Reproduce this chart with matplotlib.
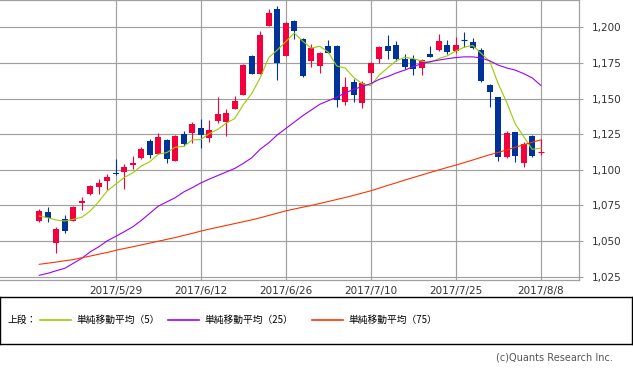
import pandas as pd
import matplotlib
matplotlib.use("Agg")
import matplotlib.pyplot as plt

plt.rcParams['font.family'] = ['DejaVu Sans', 'Noto Sans CJK JP']

# trading days 2017/5/16 - 2017/8/8 (7/17 was a holiday)
dates = pd.bdate_range("2017-05-16", "2017-08-08")
dates = dates[dates != pd.Timestamp("2017-07-17")]

label_dates = ["2017-05-29", "2017-06-12", "2017-06-26", "2017-07-10", "2017-07-25", "2017-08-08"]

opens = [1064.1, 1070.6, 1048.8, 1065.3, 1064.3, 1076.7, 1083.2, 1088.1, 1092.4, 1097.8,
         1098.5, 1103.6, 1108.5, 1120.2, 1111.3, 1120.9, 1106.4, 1125.1, 1125.6, 1129.5,
         1122.6, 1134.5, 1133.5, 1142.9, 1152.7, 1179.9, 1167.4, 1201.1, 1212.8, 1180.1,
         1204.4, 1191.8, 1176.6, 1173.1, 1187.1, 1187.1, 1147.8, 1161.6, 1146.7, 1168.1,
         1178.0, 1186.9, 1187.6, 1178.0, 1177.8, 1171.6, 1181.3, 1184.1, 1187.6, 1183.4,
         1190.9, 1189.9, 1184.1, 1159.5, 1150.8, 1108.8, 1126.3, 1104.6, 1123.7, 1112.6]
highs = [1072.5, 1073.9, 1059.9, 1068.1, 1074.6, 1080.9, 1089.5, 1093.3, 1097.1, 1107.6,
         1104.1, 1109.5, 1116.0, 1121.8, 1125.8, 1121.8, 1124.5, 1127.2, 1133.5, 1135.9,
         1134.9, 1151.1, 1142.7, 1151.6, 1174.0, 1180.8, 1197.4, 1212.8, 1215.2, 1203.5,
         1205.3, 1192.7, 1188.3, 1182.5, 1191.1, 1187.5, 1165.1, 1163.7, 1162.3, 1175.5,
         1186.9, 1194.8, 1190.6, 1181.3, 1180.6, 1177.5, 1186.9, 1195.3, 1191.1, 1193.0,
         1196.7, 1192.7, 1185.3, 1160.2, 1151.0, 1127.0, 1126.5, 1119.7, 1124.4, 1122.0]
lows = [1063.4, 1063.6, 1041.8, 1055.9, 1063.9, 1071.8, 1082.1, 1082.8, 1085.8, 1096.3,
        1086.7, 1100.6, 1107.4, 1108.1, 1110.9, 1104.6, 1106.0, 1116.9, 1119.0, 1115.5,
        1119.7, 1133.0, 1123.9, 1142.5, 1152.2, 1167.0, 1167.0, 1201.0, 1163.0, 1180.0,
        1192.0, 1165.1, 1172.4, 1168.1, 1182.0, 1144.3, 1145.5, 1147.4, 1143.6, 1161.8,
        1175.2, 1178.0, 1176.4, 1170.5, 1166.7, 1166.7, 1179.0, 1183.6, 1181.3, 1181.8,
        1186.4, 1185.0, 1161.4, 1144.3, 1106.4, 1108.5, 1105.5, 1101.8, 1109.2, 1110.4]
closes = [1071.1, 1066.4, 1058.2, 1057.3, 1073.7, 1078.1, 1088.6, 1090.9, 1095.0, 1096.8,
          1102.0, 1105.0, 1114.6, 1110.2, 1123.0, 1107.6, 1123.9, 1117.9, 1132.4, 1124.8,
          1127.9, 1139.2, 1139.6, 1148.5, 1173.5, 1167.4, 1194.6, 1210.0, 1175.2, 1203.0,
          1197.4, 1165.8, 1185.5, 1182.2, 1182.2, 1149.0, 1157.9, 1152.5, 1160.7, 1175.2,
          1186.2, 1183.6, 1177.5, 1172.4, 1170.9, 1177.0, 1179.4, 1190.4, 1182.5, 1187.6,
          1190.8, 1185.3, 1162.5, 1154.4, 1108.8, 1125.6, 1109.7, 1118.1, 1109.7, 1112.7]

ma5 = [1067.6, 1066.4, 1064.8, 1064.1, 1065.3, 1066.7, 1071.2, 1077.7, 1085.3, 1089.9,
       1094.7, 1097.9, 1102.7, 1105.7, 1111.0, 1112.1, 1115.9, 1116.5, 1121.0, 1121.3,
       1125.4, 1128.4, 1132.8, 1136.0, 1145.7, 1153.6, 1164.7, 1178.8, 1184.1, 1190.0,
       1196.0, 1190.3, 1185.4, 1186.8, 1182.6, 1172.9, 1171.4, 1164.8, 1160.5, 1159.1,
       1166.5, 1171.6, 1176.6, 1179.0, 1178.1, 1176.3, 1175.4, 1178.0, 1180.0, 1183.4,
       1186.1, 1187.3, 1181.7, 1176.1, 1160.4, 1147.3, 1132.2, 1123.3, 1114.4, 1115.2]
ma25 = [1026.0, 1027.4, 1029.2, 1030.9, 1034.4, 1037.9, 1042.5, 1046.0, 1050.2, 1053.3,
        1056.6, 1060.0, 1064.5, 1069.5, 1074.5, 1077.5, 1080.5, 1084.5, 1087.5, 1090.8,
        1093.5, 1096.0, 1098.5, 1101.0, 1104.5, 1108.5, 1114.5, 1119.0, 1124.5, 1129.0,
        1133.5, 1138.0, 1142.0, 1146.0, 1148.5, 1151.0, 1154.0, 1156.5, 1158.5, 1160.5,
        1163.5, 1165.5, 1168.0, 1170.0, 1172.5, 1174.5, 1176.0, 1177.0, 1178.0, 1178.8,
        1179.3, 1179.3, 1178.5, 1176.5, 1173.5, 1171.5, 1170.0, 1167.5, 1164.5, 1159.3]
ma75 = [1033.7, 1034.5, 1035.3, 1036.2, 1037.0, 1038.3, 1039.5, 1040.8, 1042.0, 1043.5,
        1044.8, 1046.0, 1047.3, 1048.6, 1049.9, 1051.2, 1052.5, 1054.0, 1055.4, 1057.0,
        1058.4, 1059.7, 1061.0, 1062.3, 1063.6, 1064.9, 1066.4, 1068.0, 1069.6, 1071.2,
        1072.5, 1073.8, 1075.0, 1076.4, 1077.8, 1079.2, 1080.6, 1082.1, 1083.7, 1085.3,
        1087.2, 1089.1, 1090.9, 1092.8, 1094.6, 1096.4, 1098.2, 1099.9, 1101.7, 1103.3,
        1105.1, 1106.9, 1108.8, 1110.6, 1112.2, 1114.0, 1115.9, 1117.6, 1119.4, 1121.0]

yticks = [1025, 1050, 1075, 1100, 1125, 1150, 1175, 1200]

up_color = '#F5003C'
down_color = '#003399'
grid_color = '#A0A0A0'

fig = plt.figure(figsize=(6.33, 3.70), dpi=100)
ax = fig.add_axes([0, 90 / 370, 579 / 633, 280 / 370])

# candles
for i in range(len(dates)):
    o, h, l, c = opens[i], highs[i], lows[i], closes[i]
    col = up_color if c >= o else down_color
    ax.vlines(i, l, h, color=col, lw=0.8, zorder=3)
    body = abs(c - o)
    if body < 0.5:
        ax.hlines(c, i - 0.38, i + 0.38, color=col, lw=0.8, zorder=3)
    else:
        ax.bar(i, body, bottom=min(o, c), width=0.76, color=col, lw=0, zorder=3)

x = range(len(dates))
ax.plot(x, ma5, color='#99CC00', lw=0.8, zorder=4)
ax.plot(x, ma25, color='#9B00FF', lw=0.8, zorder=4)
ax.plot(x, ma75, color='#FF3300', lw=0.8, zorder=4)

ax.set_xlim(-4.62, 63.5)
ax.set_ylim(1022.7, 1219.2)

xt = [list(dates).index(pd.Timestamp(d)) for d in label_dates]
ax.set_xticks(xt)
ax.set_xticklabels([f"{dates[k].year}/{dates[k].month}/{dates[k].day}" for k in xt])
ax.set_yticks(yticks)
ax.set_yticklabels([f"{v:,}" for v in yticks])
ax.yaxis.tick_right()

ax.grid(True, color=grid_color, lw=0.85)
ax.set_axisbelow(True)
ax.tick_params(axis='y', length=3, pad=6, labelsize=7.5, color=grid_color, labelcolor='#333333')
ax.tick_params(axis='x', length=0, pad=4, labelsize=7.5, labelcolor='#333333')
for side in ['top', 'right', 'bottom']:
    ax.spines[side].set_color(grid_color)
    ax.spines[side].set_linewidth(0.9)
ax.spines['left'].set_visible(False)

# legend box
lax = fig.add_axes([0, 26 / 370, 632 / 633, 47 / 370])
lax.set_xlim(0, 632)
lax.set_ylim(0, 47)
lax.set_xticks([])
lax.set_yticks([])
for s in lax.spines.values():
    s.set_color('black')
    s.set_linewidth(1.0)

ly = 24
jp = ['Noto Sans CJK JP', 'DejaVu Sans']
lax.text(8, ly, "上段：", family=jp, fontsize=7, va='center', ha='left')
items = [(40, '#99CC00', "単純移動平均（5）"),
         (168, '#9B00FF', "単純移動平均（25）"),
         (312, '#FF3300', "単純移動平均（75）")]
for x0, col, label in items:
    lax.plot([x0, x0 + 31], [ly, ly], color=col, lw=1.2)
    lax.text(x0 + 36, ly, label, family=jp, fontsize=7, va='center', ha='left')

fig.text(613 / 633, 13 / 370, "(c)Quants Research Inc.", fontsize=7, color='#555555',
         ha='right', va='center')

fig.savefig("out.png", dpi=100)
